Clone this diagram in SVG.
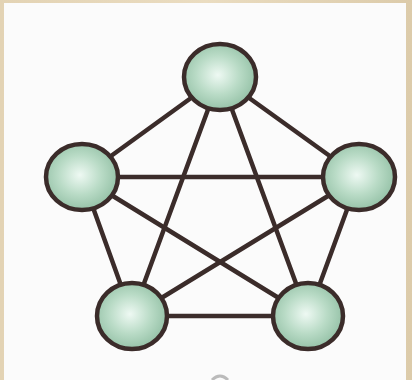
<svg xmlns="http://www.w3.org/2000/svg" width="412" height="380" viewBox="0 0 412 380">
<defs>
<radialGradient id="ball" cx="0.47" cy="0.47" r="0.6">
<stop offset="0" stop-color="#eef9f3"/>
<stop offset="0.5" stop-color="#b9dbc6"/>
<stop offset="1" stop-color="#8cbb9f"/>
</radialGradient>
<linearGradient id="frame" x1="0" y1="0" x2="1" y2="0">
<stop offset="0" stop-color="#e3d3b4"/>
<stop offset="0.5" stop-color="#eadcc0"/>
<stop offset="1" stop-color="#dccbaa"/>
</linearGradient>
</defs>
<style>
.edge{stroke:#3b2c2a;stroke-width:4.5;stroke-linecap:round;fill:none}
.node{fill:url(#ball);stroke:#3b2c2a;stroke-width:4.5}
</style>
<rect x="0" y="0" width="412" height="380" fill="url(#frame)"/>
<rect x="4" y="3" width="402" height="377" fill="#fbfbfb"/>
<g id="connectors">
<line class="edge" x1="220" y1="77" x2="82" y2="177"/>
<line class="edge" x1="220" y1="77" x2="359" y2="177"/>
<line class="edge" x1="220" y1="77" x2="132" y2="316"/>
<line class="edge" x1="220" y1="77" x2="308" y2="316"/>
<line class="edge" x1="82" y1="177" x2="359" y2="177"/>
<line class="edge" x1="82" y1="177" x2="132" y2="316"/>
<line class="edge" x1="82" y1="177" x2="308" y2="316"/>
<line class="edge" x1="359" y1="177" x2="132" y2="316"/>
<line class="edge" x1="359" y1="177" x2="308" y2="316"/>
<line class="edge" x1="132" y1="316" x2="308" y2="316"/>
</g>
<g id="n1"><ellipse class="node" cx="220" cy="77" rx="36" ry="33"/></g>
<g id="n2"><ellipse class="node" cx="82" cy="177" rx="36" ry="33"/></g>
<g id="n3"><ellipse class="node" cx="359" cy="177" rx="36" ry="33"/></g>
<g id="n4"><ellipse class="node" cx="132" cy="316" rx="35" ry="33"/></g>
<g id="n5"><ellipse class="node" cx="308" cy="316" rx="35" ry="33"/></g>
<path d="M212 380 Q220 372 228 380" fill="none" stroke="#bbbbbb" stroke-width="3"/>
</svg>
